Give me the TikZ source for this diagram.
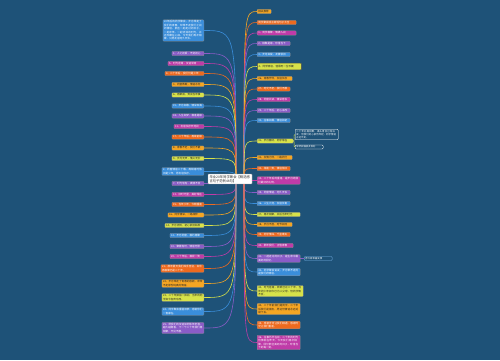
\documentclass[tikz,border=0pt]{standalone}
\usepackage{fontspec}
\newfontfamily\cjk{Noto Sans CJK SC}
\XeTeXlinebreaklocale "zh"
\XeTeXlinebreakskip = 0pt plus 0.5pt
\usetikzlibrary{calc}
\definecolor{bgc}{RGB}{30,82,120}
\definecolor{cpur}{HTML}{8A5CC7}
\definecolor{cmag}{HTML}{BF3BA8}
\definecolor{cora}{HTML}{EE6A1F}
\definecolor{cyel}{HTML}{F5A623}
\definecolor{cgrn}{HTML}{D7E24A}
\definecolor{cblu}{HTML}{3A8EDB}
\pgfdeclarelayer{bgl}
\pgfdeclarelayer{lines}
\pgfsetlayers{bgl,lines,main}
\tikzset{
  nb/.style={rounded corners=0.7pt, inner xsep=1.2pt, inner ysep=0.9pt,
    font=\cjk\fontsize{2.6}{3.4}\selectfont, align=left, draw=black!45, line width=0.25pt},
  pur/.style={nb, fill=cpur, text=white, text width=#1},
  mag/.style={nb, fill=cmag, text=white, text width=#1},
  ora/.style={nb, fill=cora, text=white, text width=#1},
  yel/.style={nb, fill=cyel, text=black!85, text width=#1},
  grn/.style={nb, fill=cgrn, text=black!85, text width=#1},
  blu/.style={nb, fill=cblu, text=white, text width=#1},
  sel/.style={draw=black!70, line width=0.6pt, inner ysep=2.2pt},
  dark/.style={rounded corners=1pt, inner xsep=1.2pt, inner ysep=0.9pt,
    font=\cjk\fontsize{2.4}{3.2}\selectfont, align=left, fill=bgc, draw=white!75,
    line width=0.35pt, text=white, text width=#1},
  ctrbox/.style={rounded corners=0.5pt, inner xsep=1.5pt, inner ysep=1.2pt,
    font=\cjk\fontsize{3.3}{4.4}\selectfont, align=left, fill=white, draw=black!40,
    line width=0.3pt, text=black!85, text width=41pt},
  conn/.style={draw=#1, line width=0.6pt}
}
\begin{document}
\begin{tikzpicture}[x=1pt,y=-1pt]
\useasboundingbox (0,0) rectangle (500,360);
\begin{pgfonlayer}{bgl}
\fill[bgc] (0,0) rectangle (500,360);
\end{pgfonlayer}

% center
\node[ctrbox] (ctr) at (230,179) {毕业20年同学聚会【精选感言句子范例46句】};
\coordinate (cl) at (236,179);
\coordinate (cr) at (244,179);

% left branch
\node[blu=38.6pt, anchor=east] (L1) at (204,30.5) {20年后的同学聚会，岁月带走了我们的青春，却带不走我们之间的情谊。那些一起走过的日子，一起欢笑、一起流泪的时光，永远珍藏在心底。今天我们再次相聚，只愿友谊地久天长。};
\node[pur=29.6pt, anchor=east] (L2) at (204,53.5) {1、人之初爱，不变初心};
\node[mag=33.6pt, anchor=east] (L3) at (204,63.5) {5、时光荏苒，友谊常青};
\node[ora=36.6pt, anchor=east] (L4) at (204,73.5) {4、二十年后，我们仍是少年};
\node[yel=29.6pt, anchor=east] (L5) at (204,84.5) {3、同窗数载，情谊永存};
\node[grn=29.6pt, anchor=east] (L6) at (204,95) {6、再聚首，笑谈当年事};
\node[blu=29.6pt, anchor=east] (L7) at (204,106) {19、岁月如歌，情深似海};
\node[pur=29.6pt, anchor=east] (L8) at (204,116) {18、人生如梦，相逢是缘};
\node[mag=27.6pt, anchor=east] (L9) at (204,126.5) {11、友谊长存天地间};
\node[ora=29.6pt, anchor=east] (L10) at (204,137) {17、二十年后，再续前缘};
\node[yel=29.6pt, anchor=east] (L11) at (204,148) {8、青春不老，我们不散};
\node[grn=29.6pt, anchor=east] (L12) at (204,158.5) {9、岁月无声，情义无价};
\node[blu=39.6pt, anchor=east] (L13) at (204,171.5) {2、同窗情谊二十载，再相逢时依旧是少年，愿友谊长存。};
\node[pur=29.6pt, anchor=east] (L14) at (204,183.5) {7、时光匆匆，真情不变};
\node[mag=29.6pt, anchor=east] (L15) at (204,194.5) {13、旧时光里，美好常在};
\node[ora=29.6pt, anchor=east] (L16) at (204,204.5) {15、当年少年，今朝重逢};
\node[yel=33.6pt, anchor=east] (L17) at (204,215) {16、同学情深，一路相伴};
\node[grn=36.6pt, anchor=east] (L18) at (204,225.5) {14、岁月流转，初心依旧如故};
\node[blu=31.6pt, anchor=east] (L19) at (204,235.5) {12、不忘同窗，相约再聚};
\node[pur=31.6pt, anchor=east] (L20) at (204,246.5) {10、聚散有时，情谊无限};
\node[mag=31.6pt, anchor=east] (L21) at (204,256.5) {20、二十年后，相视一笑};
\node[ora=40.6pt, anchor=east] (L22) at (204,268.5) {21、那年夏天我们挥手告别，如今再相聚已是二十年。};
\node[yel=39.6pt, anchor=east] (L23) at (204,283.5) {22、岁月带走了青春的容颜，却带不走那份纯真的情谊。};
\node[grn=39.6pt, anchor=east] (L24) at (204,297.5) {23、二十年弹指一挥间，当年的同学如今各奔东西。};
\node[blu=39.6pt, anchor=east] (L25) at (204,311.5) {24、同学聚会重温旧梦，感谢你们一直都在。};
\node[pur=39.6pt, anchor=east] (L26) at (204,328) {25、愿我们的友谊如同陈年老酒，越久越醇香，下一个二十年我们再相聚，不见不散。};

% right branch
\node[yel=11.6pt, anchor=west] (R1) at (257,11.5) {相关推荐};
\node[ora=36.6pt, anchor=west] (R2) at (257,22.5) {同学聚会感言简短句子大全};
\node[mag=36.6pt, anchor=west] (R3) at (257,33) {1、同学相聚，情满人间};
\node[pur=30.6pt, anchor=west] (R4) at (257,43.5) {2、相聚是缘，珍惜当下};
\node[blu=30.6pt, anchor=west] (R5) at (257,54.5) {3、岁月如梭，友情依旧};
\node[grn=41.6pt, sel, anchor=west] (R6) at (257,66.5) {4、同学情谊，值得用一生珍藏};
\node[yel=32.6pt, anchor=west] (R7) at (257,78.5) {26、青春作伴，友谊长存};
\node[ora=30.6pt, anchor=west] (R8) at (257,89) {27、时光不老，我们不散};
\node[mag=30.6pt, anchor=west] (R9) at (257,99.5) {28、同窗共读，情深意长};
\node[pur=30.6pt, anchor=west] (R10) at (257,110.5) {29、二十年后，初心未改};
\node[blu=30.6pt, anchor=west] (R11) at (257,120.5) {30、往事如烟，情谊如初};
\node[grn=33.6pt, anchor=west] (R12) at (257,141) {31、岁月静好，同学常在};
\node[dark=40.6pt, anchor=west] (C1) at (295,134.5) {二十年后再相聚，满头青丝已有白发，但我们的心依然年轻，同学情谊永远不变。};
\node[dark=25.6pt, anchor=west] (C2) at (295,147) {举杯祝福彼此安好};
\node[yel=32.6pt, anchor=west] (R13) at (257,157.5) {32、友情为伴，一路同行};
\node[ora=30.6pt, anchor=west] (R14) at (257,168.5) {33、相逢一笑，情谊依旧};
\node[mag=40.6pt, anchor=west] (R15) at (257,180.5) {34、二十年后的重逢，是岁月给我们最好的礼物。};
\node[pur=30.6pt, anchor=west] (R16) at (257,192.5) {35、同窗情谊，地久天长};
\node[blu=30.6pt, anchor=west] (R17) at (257,203.5) {36、人生几何，友谊长青};
\node[grn=40.6pt, anchor=west] (R18) at (257,214.5) {37、再次相聚，共话当年时光};
\node[yel=32.6pt, anchor=west] (R19) at (257,224.5) {38、岁月不居，时节如流};
\node[ora=30.6pt, anchor=west] (R20) at (257,234.5) {39、同学情深，千金难买};
\node[mag=33.6pt, anchor=west] (R21) at (257,245.5) {40、那年我们，正值青春};
\node[pur=40.6pt, anchor=west] (R22) at (257,258.5) {41、一起走过的日子，是生命中最美好的回忆。};
\node[dark=25.6pt, draw=cblu!70!white, anchor=west] (C3) at (304,258.5) {愿大家幸福安康};
\node[blu=40.6pt, anchor=west] (R23) at (257,272) {42、同学聚会说说，岁月带不走的是我们的情谊。};
\node[grn=43.6pt, anchor=west] (R24) at (257,291) {43、时光荏苒，转眼已过二十年，当年的少年如今已为人父母，但同学情不变。};
\node[yel=40.6pt, anchor=west] (R25) at (257,309) {44、二十年前我们是同学，二十年后我们是朋友，愿这份情谊永远延续下去。};
\node[ora=40.6pt, anchor=west] (R26) at (257,325) {45、感谢岁月让我们相遇，感谢时光让我们重逢。};
\node[mag=40.6pt, anchor=west] (R27) at (257,342.5) {46、往事历历在目，二十年的时光仿佛就在昨天，今天我们再次相聚，回忆那些美好的日子，珍惜当下的每一刻。};

% connectors
\begin{pgfonlayer}{lines}
\foreach \n/\c in {L1/cblu,L2/cpur,L3/cmag,L4/cora,L5/cyel,L6/cgrn,L7/cblu,L8/cpur,L9/cmag,L10/cora,L11/cyel,L12/cgrn,L13/cblu,L14/cpur,L15/cmag,L16/cora,L17/cyel,L18/cgrn,L19/cblu,L20/cpur,L21/cmag,L22/cora,L23/cyel,L24/cgrn,L25/cblu,L26/cpur}
  \draw[conn=\c] (cl) .. controls (cl |- \n.east) and (cl |- \n.east) .. (\n.east);
\foreach \n/\c in {R1/cyel,R2/cora,R3/cmag,R4/cpur,R5/cblu,R6/cgrn,R7/cyel,R8/cora,R9/cmag,R10/cpur,R11/cblu,R12/cgrn,R13/cyel,R14/cora,R15/cmag,R16/cpur,R17/cblu,R18/cgrn,R19/cyel,R20/cora,R21/cmag,R22/cpur,R23/cblu,R24/cgrn,R25/cyel,R26/cora,R27/cmag}
  \draw[conn=\c] (cr) .. controls (cr |- \n.west) and (cr |- \n.west) .. (\n.west);
\draw[conn=cgrn, line width=0.4pt] (R12.east) to[out=0,in=180] (C1.west);
\draw[conn=cgrn, line width=0.4pt] (R12.east) to[out=0,in=180] (C2.west);
\draw[conn=cpur, line width=0.4pt] (R22.east) to[out=0,in=180] (C3.west);
\end{pgfonlayer}
\end{tikzpicture}
\end{document}
